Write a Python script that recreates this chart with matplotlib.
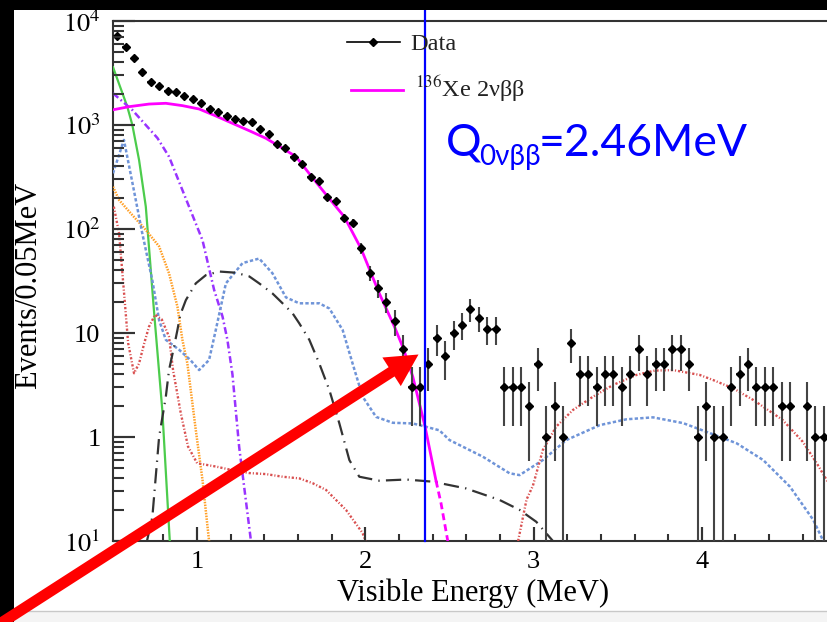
import numpy as np
import matplotlib
matplotlib.use('Agg')
import matplotlib.pyplot as plt
import matplotlib.transforms as mtransforms
from matplotlib.collections import LineCollection
from matplotlib.lines import Line2D
from matplotlib.patches import Rectangle, FancyArrow
from matplotlib.transforms import IdentityTransform
from matplotlib.ticker import FixedLocator, FixedFormatter, NullFormatter

plt.rcParams['font.family'] = ['Liberation Serif', 'DejaVu Serif']
plt.rcParams['mathtext.fontset'] = 'stix'

# ---- data ----
# histogram bin centres (0.05 MeV bins) and counts
energy = [0.525, 0.575, 0.625, 0.675, 0.725, 0.775, 0.825, 0.875, 0.925, 0.975,
          1.025, 1.075, 1.125, 1.175, 1.225, 1.275, 1.325, 1.375, 1.425, 1.475,
          1.525, 1.575, 1.625, 1.675, 1.725, 1.775, 1.825, 1.875, 1.925, 1.975,
          2.025, 2.075, 2.125, 2.175, 2.225, 2.275, 2.325, 2.375, 2.425, 2.475,
          2.525, 2.575, 2.625, 2.675, 2.725, 2.775, 2.825, 2.875, 2.925, 2.975,
          3.025, 3.075, 3.125, 3.175, 3.225, 3.275, 3.325, 3.375, 3.425, 3.475,
          3.525, 3.575, 3.625, 3.675, 3.725, 3.775, 3.825, 3.875, 3.925, 3.975,
          4.025, 4.075, 4.125, 4.175, 4.225, 4.275, 4.325, 4.375, 4.425, 4.475,
          4.525, 4.575, 4.625, 4.675, 4.725]
counts = [7180, 5580, 4380, 3210, 2610, 2390, 2140, 2060, 1910, 1780,
          1620, 1420, 1340, 1230, 1130, 1090, 1060, 915, 820, 656,
          600, 492, 419, 318, 290, 203, 185, 128, 115, 65,
          38, 27, 20, 13, 7, 3, 3, 5, 9, 6,
          10, 12, 17, 14, 11, 11, 3, 3, 3, 2,
          5, 1, 2, 1, 8, 4, 4, 3, 4, 4,
          3, 4, 7, 4, 5, 5, 7, 7, 5, 1,
          2, 1, 1, 3, 4, 5, 3, 3, 3, 2,
          2, 0, 2, 1, 1]

# 136Xe 2vbb (magenta)
xe_x = [0.50, 0.595, 0.714, 0.814, 0.913, 1.012, 1.111, 1.21, 1.31, 1.409, 1.508,
        1.588, 1.68, 1.776, 1.875, 1.974, 2.083, 2.173, 2.226, 2.282, 2.355, 2.42]
xe_y = [1400, 1500, 1590, 1617, 1535, 1425, 1222, 1038, 881, 745, 597,
        496, 320, 205, 131, 65, 24, 11.5, 7.1, 3.8, 1.26, 0.38]
xe_tail_x = [2.42, 2.45, 2.49]
xe_tail_y = [0.38, 0.23, 0.1]

green_x = [0.5, 0.585, 0.615, 0.655, 0.695, 0.744, 0.793, 0.8375]
green_y = [3600, 1500, 1000, 460, 164, 16, 1.82, 0.1]

purple_x = [0.5, 0.615, 0.764, 0.833, 0.952, 1.032, 1.101, 1.151, 1.18, 1.21, 1.25, 1.32]
purple_y = [2020, 1393, 750, 496, 164, 78, 26, 14.4, 8.6, 4.0, 0.8, 0.1]

orange_x = [0.5, 0.536, 0.615, 0.695, 0.774, 0.833, 0.883, 0.9125, 0.942, 0.992, 1.032, 1.071]
orange_y = [255, 190, 136, 98, 68, 37.5, 17.9, 8.6, 5.1, 1.17, 0.386, 0.1]

blue_x = [0.5, 0.565, 0.615, 0.674, 0.734, 0.774, 0.814, 0.893, 0.96, 1.012, 1.071,
          1.111, 1.171, 1.27, 1.369, 1.448, 1.528, 1.607, 1.726, 1.786, 1.865, 1.924,
          1.984, 2.064, 2.163, 2.282, 2.355, 2.44, 2.5, 2.698, 2.857, 2.917, 3.055,
          3.195, 3.393, 3.552, 3.71, 3.889, 4.048, 4.207, 4.365, 4.524, 4.663, 4.722]
blue_y = [343, 718, 280, 91, 32, 13.3, 8.6, 6.9, 5.5, 4.4, 5.5,
          10.7, 30, 47, 52, 37.5, 22, 19.3, 19.3, 17.2, 10.7, 5.1,
          2.44, 1.56, 1.37, 1.35, 1.26, 1.16, 0.935, 0.647, 0.448, 0.43, 0.60,
          0.935, 1.30, 1.48, 1.545, 1.36, 1.09, 0.87, 0.60, 0.333, 0.159, 0.1]

red_x = [0.505, 0.536, 0.57, 0.59, 0.625, 0.655, 0.685, 0.714, 0.75, 0.79, 0.833, 0.857,
         0.903, 0.946, 1.0, 1.111, 1.21, 1.31, 1.409, 1.508, 1.607, 1.686, 1.766,
         1.885, 1.984, 2.0]
red_y = [164, 91, 20, 8, 4.1, 5.1, 7.9, 11.5, 15, 13.5, 9.2, 4.4,
         1.69, 0.81, 0.56, 0.52, 0.48, 0.45, 0.44, 0.415, 0.40, 0.36, 0.31,
         0.199, 0.119, 0.1]
red2_x = [2.908, 2.958, 2.996, 3.055, 3.135, 3.234, 3.353, 3.472, 3.611, 3.72, 3.83,
          3.988, 4.067, 4.186, 4.306, 4.48, 4.6, 4.683, 4.742, 4.8]
red2_y = [0.1, 0.25, 0.34, 0.75, 1.26, 1.82, 2.44, 3.16, 3.95, 4.35, 4.4,
          3.95, 3.53, 2.94, 2.27, 1.46, 0.9, 0.56, 0.386, 0.25]

black_x = [0.702, 0.734, 0.774, 0.814, 0.833, 0.863, 0.883, 0.9, 0.933, 0.992, 1.052,
           1.131, 1.23, 1.31, 1.369, 1.448, 1.508, 1.567, 1.607, 1.667, 1.726, 1.786,
           1.845, 1.905, 1.964, 2.083, 2.242, 2.4, 2.599, 2.798, 2.917, 3.016, 3.115]
black_y = [0.1, 0.171, 1.0, 2.44, 4.4, 7.4, 10.7, 15, 20.7, 30, 36,
           39, 38, 35, 30, 24, 19.3, 15.5, 12.4, 8.6, 5.1, 2.83,
           1.36, 0.60, 0.415, 0.38, 0.39, 0.372, 0.32, 0.248, 0.199, 0.153, 0.1]

q_line = 2.357
xticks = [1, 2, 3, 4]
xticks_minor = [0.6, 0.8, 1.2, 1.4, 1.6, 1.8, 2.2, 2.4, 2.6, 2.8,
                3.2, 3.4, 3.6, 3.8, 4.2, 4.4, 4.6]
yticks = [0.1, 1, 10, 100, 1000, 10000]
ytick_labels = [r'$10^{1}$', '1', '10', r'$10^{2}$', r'$10^{3}$', r'$10^{4}$']
yticks_minor = [d * k for d in [0.1, 1, 10, 100, 1000] for k in range(2, 10)]

# ---- figure ----
W, H = 828, 622
def fx(px):
    return px / W
def fy(py):
    return 1 - py / H

def dash(pattern, lw):
    # dash lengths given in points, matplotlib scales them by line width
    return [p / lw for p in pattern]

ax_left, ax_right, ax_top, ax_bot = 113, 836.4, 21, 541
fig = plt.figure(figsize=(W / 100, H / 100), dpi=100, facecolor='white')
ax = fig.add_axes([fx(ax_left), fy(ax_bot), fx(ax_right) - fx(ax_left), fy(ax_top) - fy(ax_bot)])
ax.set_yscale('log')
ax.set_xlim(0.5, 4.8)
ax.set_ylim(0.1, 1e4)

ax.xaxis.set_major_locator(FixedLocator(xticks))
ax.xaxis.set_minor_locator(FixedLocator(xticks_minor))
ax.yaxis.set_major_locator(FixedLocator(yticks))
ax.yaxis.set_major_formatter(FixedFormatter(ytick_labels))
ax.yaxis.set_minor_locator(FixedLocator(yticks_minor))
ax.yaxis.set_minor_formatter(NullFormatter())

ax.tick_params(which='both', direction='in', colors='#333333', width=1.5,
               left=True, bottom=True, right=False, top=False)
ax.tick_params(axis='y', which='major', length=16, labelsize=19, pad=9, labelcolor='black')
ax.tick_params(axis='y', which='minor', length=8)
ax.tick_params(axis='x', which='major', length=10, labelsize=19, pad=7, labelcolor='black')
ax.tick_params(axis='x', which='minor', length=5)

# tick marks also drawn as short segments on the spines
aw = ax_right - ax_left
ah = ax_bot - ax_top
ty = mtransforms.blended_transform_factory(ax.transAxes, ax.transData)
tx = mtransforms.blended_transform_factory(ax.transData, ax.transAxes)
tick_sets = [
    ([[(0, v), (22 / aw, v)] for v in yticks], ty, 1.5),
    ([[(0, v), (11 / aw, v)] for v in yticks_minor], ty, 1.3),
    ([[(v, 0), (v, 14 / ah)] for v in xticks], tx, 1.5),
    ([[(v, 0), (v, 7 / ah)] for v in xticks_minor], tx, 1.3),
]
for segs, tr, w in tick_sets:
    ax.add_collection(LineCollection(segs, colors='#333333', linewidths=w, transform=tr,
                                     clip_on=False, zorder=7), autolim=False)

# curves
ax.plot(green_x, green_y, color='#4ccc4c', lw=1.6, zorder=3)
ax.plot(purple_x, purple_y, color='#9933ff', lw=1.8, dashes=dash([5, 2.2, 1.2, 2.2], 1.8), zorder=3)
ax.plot(orange_x, orange_y, color='#ffa028', lw=1.8, dashes=dash([1.1, 0.9], 1.8), zorder=3)
ax.plot(blue_x, blue_y, color='#6f94d8', lw=1.8, dashes=dash([2.4, 1.6], 1.8), zorder=3)
ax.plot(red_x, red_y, color='#d95050', lw=1.7, dashes=dash([1.6, 1.4, 0.8, 1.4], 1.7), zorder=3)
ax.plot(red2_x, red2_y, color='#d95050', lw=1.7, dashes=dash([1.6, 1.4, 0.8, 1.4], 1.7), zorder=3)
ax.plot(black_x, black_y, color='#333333', lw=1.6, dashes=dash([11, 4.5, 1, 4.5], 1.6), zorder=3)
ax.plot(xe_x, xe_y, color='#ff00ff', lw=2.0, zorder=4)
ax.plot(xe_tail_x, xe_tail_y, color='#ff00ff', lw=2.0, dashes=dash([5, 3], 2.0), zorder=4)

# data points with sqrt(N) errors
cnt = np.array(counts, dtype=float)
en = np.array(energy)
m = cnt > 0
err_hi = np.sqrt(cnt[m])
err_lo = np.minimum(err_hi, cnt[m] * 0.9999)
ax.errorbar(en[m], cnt[m], yerr=[err_lo, err_hi], xerr=0.02, fmt='D', ms=3.8,
            color='black', ecolor='#444444', elinewidth=1.5, capsize=0, zorder=5)

# Q value line
ax.axvline(q_line, ymin=0, ymax=(ax_bot - 10) / ah, color='#0000ff', lw=1.6,
           clip_on=False, zorder=6)

# axes styling
for s in ['left', 'bottom', 'top', 'right']:
    ax.spines[s].set_color('#333333')
    ax.spines[s].set_linewidth(1.5)

fig.text(fx(29), fy(285), 'Events/0.05MeV', rotation=90, ha='center', va='center', fontsize=22)
fig.text(fx(473), fy(593), 'Visible Energy (MeV)', ha='center', va='center', fontsize=22)

# legend (drawn by hand)
fig.add_artist(Line2D([fx(347), fx(400)], [fy(42.3), fy(42.3)], color='black', lw=1.2,
                      transform=fig.transFigure))
fig.add_artist(Line2D([fx(373)], [fy(42.3)], marker='D', ms=4, color='black',
                      transform=fig.transFigure))
fig.text(fx(410), fy(50), 'Data', fontsize=17.5, va='baseline', color='#222222')
fig.add_artist(Line2D([fx(351), fx(403)], [fy(90), fy(90)], color='#ff00ff', lw=2,
                      transform=fig.transFigure))
fig.text(fx(415), fy(97), r'$^{136}$Xe 2νββ', fontsize=17.5, va='baseline', color='#222222')

# Q value label
qfont = ['Lato', 'DejaVu Sans']
fig.text(fx(446), fy(156), 'Q', fontsize=32, color='#0000ff', family=qfont, va='baseline')
fig.text(fx(479), fy(165), '0νββ', fontsize=20, color='#0000ff', family=qfont, va='baseline')
fig.text(fx(539), fy(156), '=2.46MeV', fontsize=32, color='#0000ff', family=qfont, va='baseline')

# slide frame
fig.add_artist(Rectangle((0, fy(10)), 1, 10 / H, transform=fig.transFigure,
                         facecolor='black', edgecolor='none', zorder=10))
fig.add_artist(Rectangle((0, 0), 14 / W, 1, transform=fig.transFigure,
                         facecolor='black', edgecolor='none', zorder=10))
fig.add_artist(Rectangle((14 / W, 0), 1, 11 / H, transform=fig.transFigure,
                         facecolor='#f4f4f4', edgecolor='none', zorder=9))
fig.add_artist(Line2D([14 / W, 1], [fy(611), fy(611)], color='#c8c8c8', lw=1,
                      transform=fig.transFigure, zorder=9))

# red arrow
fig.add_artist(FancyArrow(-30, -21, 448.5, 288.5, width=11, head_width=34, head_length=32,
                          length_includes_head=True, color='#ff0000', lw=0,
                          transform=IdentityTransform(), zorder=20))

fig.savefig('out.png', dpi=100, facecolor='white')
